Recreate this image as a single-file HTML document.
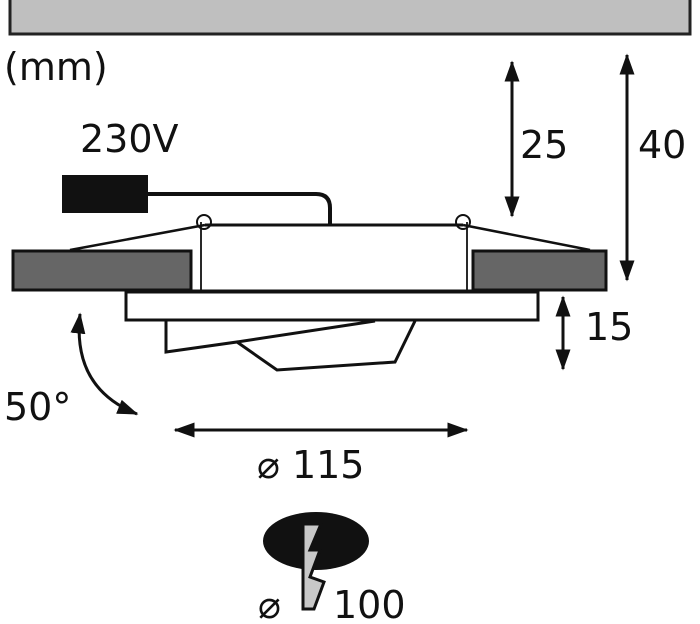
<!DOCTYPE html>
<html><head><meta charset="utf-8"><style>
html,body{margin:0;padding:0;background:#fff}
svg{display:block}
text{font-family:"DejaVu Sans","Liberation Sans",sans-serif;fill:#111}
</style></head><body>
<svg width="700" height="624" viewBox="0 0 700 624" xmlns="http://www.w3.org/2000/svg">
<defs>
<marker id="a" viewBox="0 0 14 10" refX="13" refY="5" markerWidth="7" markerHeight="5" orient="auto-start-reverse" markerUnits="strokeWidth"><path d="M0,0L14,5L0,10z" fill="#111"/></marker>
</defs>
<rect x="10" y="-2" width="680" height="36" fill="#bfbfbf" stroke="#222" stroke-width="3"/>
<text x="4" y="80" font-size="38">(mm)</text>
<text x="80" y="152" font-size="38">230V</text>
<rect x="62" y="175" width="86" height="38" fill="#111"/>
<path d="M148,194 H316 Q330,194 330,208 V226" fill="none" stroke="#111" stroke-width="4"/>
<line x1="70" y1="250" x2="205" y2="225" stroke="#111" stroke-width="2.5"/>
<line x1="590" y1="250" x2="463" y2="225" stroke="#111" stroke-width="2.5"/>
<line x1="205" y1="225" x2="463" y2="225" stroke="#111" stroke-width="3"/>
<line x1="201" y1="222" x2="201" y2="292" stroke="#111" stroke-width="1.8"/>
<line x1="467" y1="222" x2="467" y2="292" stroke="#111" stroke-width="1.8"/>
<circle cx="204" cy="222" r="7" fill="none" stroke="#111" stroke-width="2"/>
<circle cx="463" cy="222" r="7" fill="none" stroke="#111" stroke-width="2"/>
<rect x="13" y="251" width="178" height="39" fill="#666" stroke="#111" stroke-width="3"/>
<rect x="473" y="251" width="133" height="39" fill="#666" stroke="#111" stroke-width="3"/>
<line x1="191" y1="291" x2="473" y2="291" stroke="#111" stroke-width="3"/>
<rect x="126" y="292" width="412" height="28" fill="#fff" stroke="#111" stroke-width="3"/>
<path d="M166,321 V352 L237,342 L277,370 L395,362 L415,321" fill="none" stroke="#111" stroke-width="3"/>
<line x1="237" y1="342" x2="375" y2="321" stroke="#111" stroke-width="3"/>
<line x1="512" y1="62" x2="512" y2="216" stroke="#111" stroke-width="3" marker-start="url(#a)" marker-end="url(#a)"/>
<text x="520" y="158" font-size="38">25</text>
<line x1="627" y1="55" x2="627" y2="280" stroke="#111" stroke-width="3" marker-start="url(#a)" marker-end="url(#a)"/>
<text x="638" y="158" font-size="38">40</text>
<line x1="563" y1="297" x2="563" y2="369" stroke="#111" stroke-width="3" marker-start="url(#a)" marker-end="url(#a)"/>
<text x="585" y="340" font-size="38">15</text>
<path d="M80,314 Q72,388 137,414" fill="none" stroke="#111" stroke-width="3" marker-start="url(#a)" marker-end="url(#a)"/>
<text x="4" y="420" font-size="38">50°</text>
<line x1="175" y1="430" x2="467" y2="430" stroke="#111" stroke-width="3" marker-start="url(#a)" marker-end="url(#a)"/>
<text x="257" y="478" font-size="38">⌀ 115</text>
<ellipse cx="316" cy="541" rx="53" ry="29" fill="#111"/>
<path d="M303,524 H321 L310,550 L320,550 L310,577 L324,582 L314,609 H303 Z" fill="#c8c8c8" stroke="#111" stroke-width="3"/>
<text x="258" y="618" font-size="38">⌀</text>
<text x="333" y="618" font-size="38">100</text>
</svg>
</body></html>
